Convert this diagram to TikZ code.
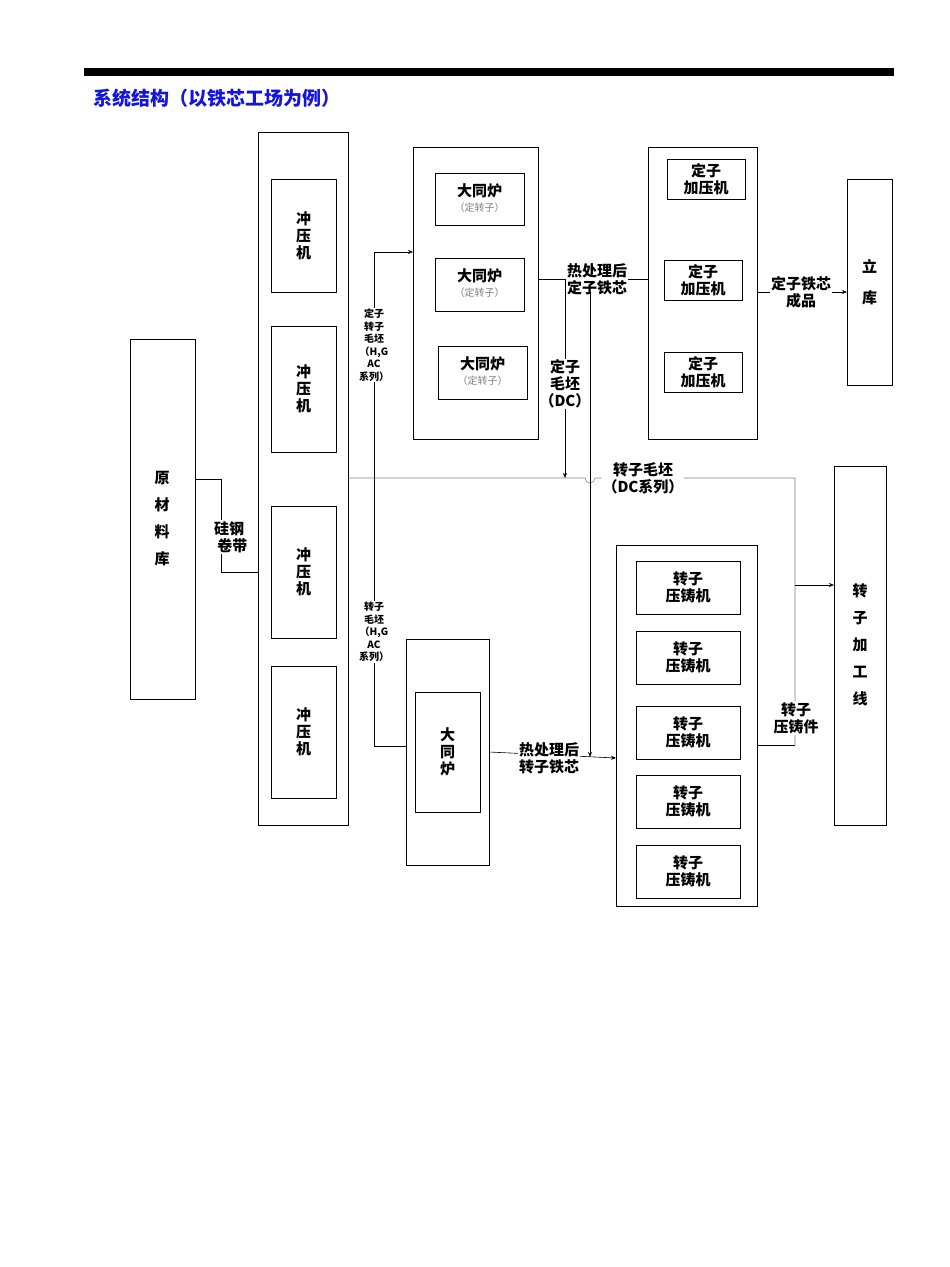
\documentclass[tikz,border=0pt]{standalone}
\usepackage{fontspec}
\setmainfont{Noto Sans CJK SC}
\usetikzlibrary{arrows.meta}
\begin{document}
\begin{tikzpicture}[x=1pt,y=-1pt,
  box/.style={draw,line width=0.8pt,inner sep=0pt},
  lbl/.style={font=\fontsize{15}{17}\selectfont\bfseries,align=center,inner sep=1pt},
  slbl/.style={font=\fontsize{11}{13}\selectfont\bfseries,align=center,inner sep=1pt},
  glbl/.style={font=\fontsize{10}{12}\selectfont,text=gray},
  arr/.style={-{Stealth[length=5pt,width=4pt]},line width=0.6pt},
  ln/.style={line width=0.6pt}]
\useasboundingbox (0,0) rectangle (950,1267);
\fill (84,68) rectangle (894,76);
\node[anchor=west,font=\fontsize{19}{21}\selectfont\bfseries,text={rgb,255:red,20;green,20;blue,220}] (title) at (90,98) {系统结构（以铁芯工场为例）};
% raw material
\draw[box] (130,339) rectangle (195,699);
\node[lbl] (raw) at (162,519) {原\\[10pt]材\\[10pt]料\\[10pt]库};
% stamping
\draw[box] (258,132) rectangle (348,825);
\foreach \a/\b/\n in {179/292/s1,326/452/s2,506/638/s3,666/798/s4}{
  \draw[box] (271,\a) rectangle (336,\b);
  \node[lbl] (\n) at (303.5,{(\a+\b)/2}) {冲\\压\\机};}
% furnace group
\draw[box] (413,147) rectangle (538,439);
\draw[box] (435,173) rectangle (524,225);
\node[lbl] at (479.5,191) {大同炉}; \node[glbl] at (479.5,208) {（定转子）};
\draw[box] (435,258) rectangle (524,311);
\node[lbl] at (479.5,276) {大同炉}; \node[glbl] at (479.5,293) {（定转子）};
\draw[box] (438,346) rectangle (527,399);
\node[lbl] at (482.5,364) {大同炉}; \node[glbl] at (482.5,381) {（定转子）};
% stator press
\draw[box] (648,147) rectangle (757,439);
\draw[box] (667,159) rectangle (745,199); \node[lbl] at (706,179) {定子\\加压机};
\draw[box] (664,260) rectangle (742,300); \node[lbl] at (703,280) {定子\\加压机};
\draw[box] (664,352) rectangle (742,392); \node[lbl] at (703,372) {定子\\加压机};
% stock
\draw[box] (847,179) rectangle (892,385);
\node[lbl] at (869.5,282) {立\\[14pt]库};
% rotor furnace
\draw[box] (406,639) rectangle (489,865);
\draw[box] (415,692) rectangle (480,812);
\node[lbl] at (447.5,752) {大\\同\\炉};
% die casting
\draw[box] (616,545) rectangle (757,906);
\foreach \a in {561,631,706,775,845}{
  \draw[box] (636,\a) rectangle (740,\a+53);
  \node[lbl] at (688,\a+26.5) {转子\\压铸机};}
% rotor line
\draw[box] (834,466) rectangle (886,825);
\node[lbl] at (860,645) {转\\[10pt]子\\[10pt]加\\[10pt]工\\[10pt]线};
% connectors
\draw[ln] (195,479) -- (221,479) -- (221,572) -- (258,572);
\node[lbl,fill=white] at (229,537) {硅钢\\\ \ 卷带};
\draw[arr] (406,746) -- (374,746) -- (374,252) -- (413,252);
\node[slbl,fill=white,font=\fontsize{10}{12.5}\selectfont\bfseries] at (374,345) {定子\\转子\\毛坯\\（H,G\\AC\\系列）};
\node[slbl,fill=white,font=\fontsize{10}{12.5}\selectfont\bfseries] at (374,632) {转子\\毛坯\\（H,G\\AC\\系列）};
\draw[ln] (538,279) -- (648,279);
\node[lbl,fill=white] at (597,279) {热处理后\\定子铁芯};
\draw[arr] (565,280) -- (565,478);
\node[lbl,fill=white] at (565,384) {定子\\毛坯\\（DC）};
\draw[gray,line width=0.6pt] (348,478) -- (585,478) arc (180:0:5) -- (795,478) -- (795,745);
\node[lbl,fill=white] at (643,478) {转子毛坯\\（DC系列）};
\draw[arr] (590,292) -- (590,757);
\draw[arr] (489,752) -- (616,758);
\node[lbl,fill=white] at (549,758) {热处理后\\转子铁芯};
\draw[ln] (757,745) -- (795,745);
\draw[arr] (795,585) -- (834,585);
\node[lbl,fill=white] at (796,718) {转子\\压铸件};
\draw[arr] (757,292) -- (847,292);
\node[lbl,fill=white] at (801,292) {定子铁芯\\成品};
\end{tikzpicture}
\end{document}
